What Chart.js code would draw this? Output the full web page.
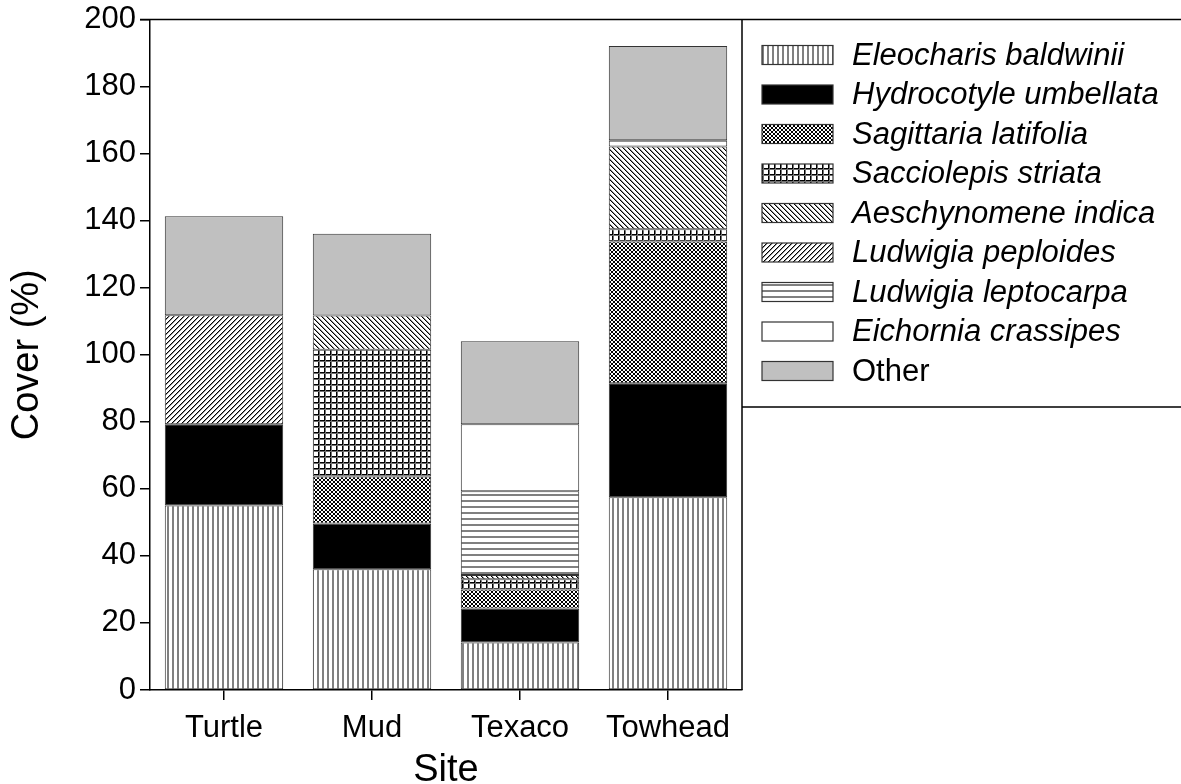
<!DOCTYPE html>
<html>
<head>
<meta charset="utf-8">
<script src="https://cdn.jsdelivr.net/npm/chart.js@4"></script>
<style>
  html, body { margin: 0; padding: 0; background: #fff; }
  #wrap { width: 1181px; height: 784px; }
</style>
</head>
<body>
<div id="wrap"><canvas id="grafico" width="1181" height="784"></canvas></div>
<script>
const sitios = ["Turtle", "Mud", "Texaco", "Towhead"];
const especies = [
  "Eleocharis baldwinii", "Hydrocotyle umbellata", "Sagittaria latifolia",
  "Sacciolepis striata", "Aeschynomene indica", "Ludwigia peploides",
  "Ludwigia leptocarpa", "Eichornia crassipes", "Other"
];
const eleocharis = [55, 36, 14.2, 57.5];
const hydrocotyle = [24.3, 13.7, 10.1, 34];
const sagittaria = [null, 14, 5.7, 42.3];
const sacciolepis = [null, 37.8, 3, 3.6];
const aeschynomene = [null, 10.2, 1.3, 24.7];
const peploides = [32.5, null, null, null];
const leptocarpa = [null, null, 25, 1.9];
const eichornia = [null, null, 20, null];
const otras = [29.5, 24.4, 24.7, 28.1];
const yTicks = [0, 20, 40, 60, 80, 100, 120, 140, 160, 180, 200];

const FUENTE = "'Liberation Sans', Arial, sans-serif";

// patrones de relleno tipo SigmaPlot
function patron(w, h, dibujar) {
  const c = document.createElement("canvas");
  c.width = w; c.height = h;
  const g = c.getContext("2d");
  g.fillStyle = "#fff";
  g.fillRect(0, 0, w, h);
  dibujar(g, w, h);
  return g.createPattern(c, "repeat");
}

const rellenos = [
  patron(5, 5, (g) => { g.fillStyle = "#808080"; g.fillRect(2, 0, 2, 5); }),
  "#000000",
  patron(4, 4, (g) => {
    g.fillStyle = "#000";
    for (let i = 0; i < 4; i++) { g.fillRect(i, i, 1, 1); g.fillRect(3 - i, i, 1, 1); }
  }),
  patron(6, 6, (g) => {
    g.fillStyle = "#000"; g.fillRect(0, 0, 6, 1); g.fillRect(0, 0, 1, 6);
    g.fillStyle = "#707070"; g.fillRect(0, 1, 6, 1); g.fillRect(1, 0, 1, 6);
  }),
  patron(5, 5, (g) => {
    for (let i = 0; i < 5; i++) {
      g.fillStyle = "#000"; g.fillRect(i, i, 1, 1);
      g.fillStyle = "#909090"; g.fillRect((i + 1) % 5, i, 1, 1);
    }
  }),
  patron(5, 5, (g) => {
    for (let i = 0; i < 5; i++) {
      g.fillStyle = "#000"; g.fillRect(4 - i, i, 1, 1);
      g.fillStyle = "#909090"; g.fillRect((5 - i) % 5, i, 1, 1);
    }
  }),
  patron(6, 6, (g) => { g.fillStyle = "#808080"; g.fillRect(0, 2, 6, 2); }),
  "#ffffff",
  "#c0c0c0"
];

const series = [eleocharis, hydrocotyle, sagittaria, sacciolepis, aeschynomene,
  peploides, leptocarpa, eichornia, otras];

const marcoYLeyenda = {
  id: "marcoYLeyenda",
  afterDraw(chart) {
    const ctx = chart.ctx;
    const a = chart.chartArea;
    ctx.save();
    ctx.strokeStyle = "#000";
    ctx.lineWidth = 1.5;
    ctx.beginPath();
    ctx.moveTo(140, a.top); ctx.lineTo(1181, a.top);
    ctx.moveTo(a.right, a.top); ctx.lineTo(a.right, a.bottom);
    ctx.moveTo(a.right, 407); ctx.lineTo(1181, 407);
    ctx.stroke();

    chart.data.datasets.forEach((ds, i) => {
      const yc = 55 + i * 39.5;
      ctx.fillStyle = ds.backgroundColor;
      ctx.fillRect(762, yc - 9.5, 71, 19);
      ctx.lineWidth = 1.2;
      ctx.strokeStyle = "#333";
      ctx.strokeRect(762, yc - 9.5, 71, 19);
      ctx.fillStyle = "#000";
      ctx.font = (ds.label === "Other" ? "" : "italic ") + "31px " + FUENTE;
      ctx.textBaseline = "middle";
      ctx.textAlign = "left";
      ctx.fillText(ds.label, 852, yc + 1);
    });
    ctx.restore();
  }
};

new Chart(document.getElementById("grafico"), {
  type: "bar",
  data: {
    labels: sitios,
    datasets: especies.map((nombre, i) => ({
      label: nombre,
      data: series[i],
      backgroundColor: rellenos[i],
      borderColor: "#333",
      borderWidth: 1,
      borderSkipped: false,
      barPercentage: 0.8,
      categoryPercentage: 1.0
    }))
  },
  options: {
    responsive: false,
    animation: false,
    layout: { padding: { left: 0, top: 18, right: 439, bottom: 0 } },
    plugins: { legend: { display: false }, tooltip: { enabled: false } },
    scales: {
      x: {
        stacked: true,
        grid: { display: true, offset: false, drawOnChartArea: false, drawTicks: true, tickLength: 10, color: "#000", lineWidth: 1.5 },
        border: { display: true, color: "#000", width: 1.5 },
        ticks: { color: "#000", padding: 10, font: { family: FUENTE, size: 31 } },
        title: { display: true, text: "Site", color: "#000", padding: { top: 0, bottom: 0 }, font: { family: FUENTE, size: 38, lineHeight: 0.7 } },
        afterFit(s) { s.height = 94; }
      },
      y: {
        stacked: true,
        min: 0,
        max: 200,
        afterBuildTicks(s) { s.ticks = yTicks.map((v) => ({ value: v })); },
        grid: { display: true, drawOnChartArea: false, drawTicks: true, tickLength: 10, color: "#000", lineWidth: 1.5 },
        border: { display: true, color: "#000", width: 1.5 },
        ticks: { color: "#000", padding: 4, font: { family: FUENTE, size: 31, lineHeight: 1.0 } },
        title: { display: true, text: "Cover (%)", color: "#000", padding: { top: 5, bottom: 0 }, font: { family: FUENTE, size: 38 } },
        afterFit(s) { s.width = 150; }
      }
    }
  },
  plugins: [marcoYLeyenda]
});
</script>
</body>
</html>
